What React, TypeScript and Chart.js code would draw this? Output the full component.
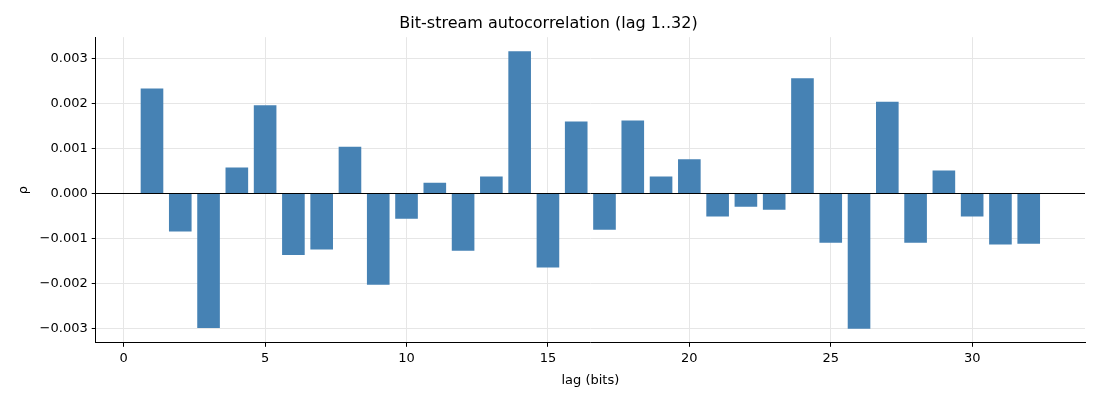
import React, { useEffect, useRef } from "react";
import { Chart, registerables } from "chart.js";
Chart.register(...registerables);

const lags = Array.from({ length: 32 }, (_, i) => i + 1);
const rho = [
  0.00233, -0.00084, -0.00298, 0.00058, 0.00196, -0.00136, -0.00124, 0.00104,
  -0.00202, -0.00056, 0.00024, -0.00127, 0.00038, 0.00316, -0.00164, 0.0016,
  -0.0008, 0.00162, 0.00038, 0.00076, -0.00051, -0.00029, -0.00036, 0.00256,
  -0.00109, -0.003, 0.00204, -0.00109, 0.00051, -0.00051, -0.00113, -0.00111,
];
const xTicks = [0, 5, 10, 15, 20, 25, 30];
const yTicks = [-0.003, -0.002, -0.001, 0, 0.001, 0.002, 0.003];

const FONT = "'DejaVu Sans', sans-serif";

export default function App() {
  const ref = useRef<HTMLCanvasElement>(null);
  useEffect(() => {
    document.body.style.margin = "0";
    Chart.defaults.font.family = FONT;
    Chart.defaults.color = "#000";
    const chart = new Chart(ref.current!, {
      type: "bar",
      data: {
        datasets: [
          {
            data: lags.map((l, i) => ({ x: l, y: rho[i] })),
            backgroundColor: "#4682b4",
            barPercentage: 0.8,
            categoryPercentage: 1,
          },
        ],
      },
      options: {
        animation: false,
        responsive: false,
        layout: { padding: { left: 12, right: 15, top: 4, bottom: 8 } },
        plugins: {
          legend: { display: false },
          tooltip: { enabled: false },
          title: {
            display: true,
            text: "Bit-stream autocorrelation (lag 1..32)",
            font: { size: 16, weight: "normal" },
            color: "#000",
            padding: { top: 10, bottom: 4 },
          },
        },
        scales: {
          x: {
            type: "linear",
            offset: false,
            min: -0.99,
            max: 33.99,
            afterBuildTicks: (s: any) => {
              s.ticks = xTicks.map((v) => ({ value: v }));
            },
            ticks: { font: { size: 13 }, color: "#000", maxRotation: 0, padding: 4 },
            grid: { offset: false, color: "#e6e6e6", tickColor: "#000", tickLength: 4 },
            border: { color: "#000" },
            title: { display: true, text: "lag (bits)", font: { size: 13 }, color: "#000", padding: { top: 2 } },
          },
          y: {
            min: -0.00331,
            max: 0.00347,
            afterBuildTicks: (s: any) => {
              s.ticks = yTicks.map((v) => ({ value: v }));
            },
            ticks: {
              font: { size: 13 },
              color: "#000",
              padding: 4,
              callback: (v: any) => {
                const n = Number(v);
                const s = Math.abs(n).toFixed(3);
                return n < -1e-9 ? "\u2212" + s : s;
              },
            },
            grid: {
              color: (c: any) => (c.tick && Math.abs(c.tick.value) < 1e-9 ? "#000" : "#e6e6e6"),
              tickColor: "#000",
              tickLength: 4,
            },
            border: { color: "#000" },
            title: { display: true, text: "ρ", font: { size: 13 }, color: "#000" },
          },
        },
      },
    });
    return () => chart.destroy();
  }, []);
  return <canvas ref={ref} width={1100} height={400} style={{ display: "block" }} />;
}
